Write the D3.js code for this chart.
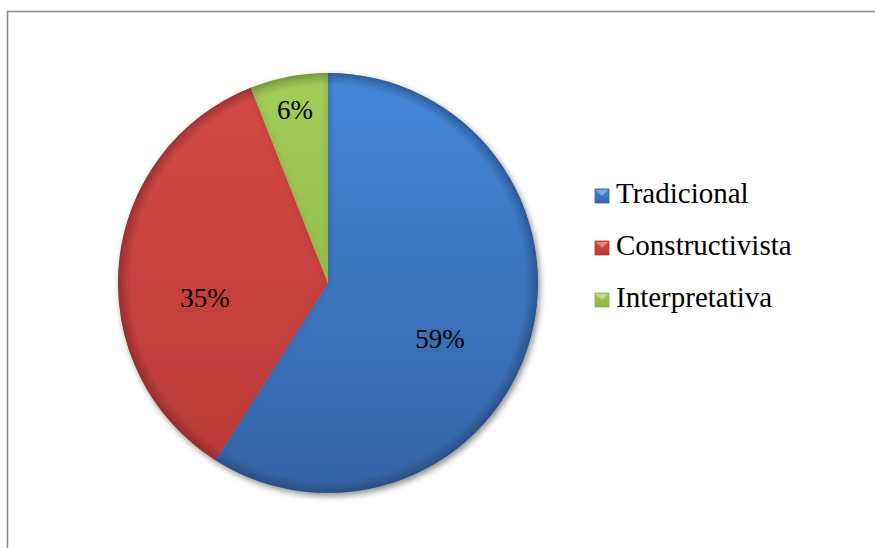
<!DOCTYPE html>
<html>
<head>
<meta charset="utf-8">
<script src="https://cdn.jsdelivr.net/npm/d3@7/dist/d3.min.js"></script>
<style>
  html, body { margin: 0; padding: 0; background: #ffffff; }
  svg { display: block; }
</style>
</head>
<body>
<svg id="chart" width="875" height="548"></svg>
<script>
// Data
const categories = ["Tradicional", "Constructivista", "Interpretativa"];
const values = [59, 35, 6];
const valueLabels = ["59%", "35%", "6%"];

// Palette (light top tone, dark bottom tone)
const lightColors = ["#4386d8", "#d44a48", "#a2cd58"];
const darkColors  = ["#3464a6", "#b83936", "#8bb146"];

// Layout
const W = 875, H = 548;
const cx = 328, cy = 283, R = 210;
const FONT = "'Liberation Serif', 'Times New Roman', 'DejaVu Serif', serif";
// label placement: fraction of radius and angular shift (radians) from slice mid-angle
const labelPlace = [[0.594, 0.175], [0.59, -0.216], [0.84, 0.0]];

const svg = d3.select("#chart");
const defs = svg.append("defs");

// Chart frame (top and left edges visible)
svg.append("rect")
  .attr("x", 7.5).attr("y", 11.5)
  .attr("width", W + 20).attr("height", H + 20)
  .attr("fill", "none")
  .attr("stroke", "#878787")
  .attr("stroke-width", 1.5);

// Drop shadow
const shadow = defs.append("filter").attr("id", "shadow")
  .attr("x", "-10%").attr("y", "-10%").attr("width", "130%").attr("height", "130%");
shadow.append("feGaussianBlur").attr("in", "SourceAlpha").attr("stdDeviation", 3).attr("result", "b");
shadow.append("feOffset").attr("in", "b").attr("dx", 2).attr("dy", 3).attr("result", "o");
shadow.append("feComponentTransfer").attr("in", "o").attr("result", "s")
  .append("feFuncA").attr("type", "linear").attr("slope", 0.45);
const merge = shadow.append("feMerge");
merge.append("feMergeNode").attr("in", "s");
merge.append("feMergeNode").attr("in", "SourceGraphic");

const soft = defs.append("filter").attr("id", "soft");
soft.append("feGaussianBlur").attr("stdDeviation", 2.5);

// Gradients: slices (local pie coords) and legend swatches (bounding box)
categories.forEach((c, i) => {
  const g = defs.append("linearGradient").attr("id", "grad" + i)
    .attr("gradientUnits", "userSpaceOnUse")
    .attr("x1", 0).attr("y1", -R).attr("x2", 0).attr("y2", R);
  g.append("stop").attr("offset", "0%").attr("stop-color", lightColors[i]);
  g.append("stop").attr("offset", "100%").attr("stop-color", darkColors[i]);

  const lg = defs.append("linearGradient").attr("id", "lgrad" + i)
    .attr("x1", 0).attr("y1", 0).attr("x2", 0).attr("y2", 1);
  lg.append("stop").attr("offset", "0%").attr("stop-color", lightColors[i]);
  lg.append("stop").attr("offset", "100%").attr("stop-color", darkColors[i]);
});

// Rim darkening
const rim = defs.append("radialGradient").attr("id", "rim")
  .attr("gradientUnits", "userSpaceOnUse")
  .attr("cx", 0).attr("cy", 0).attr("r", R);
rim.append("stop").attr("offset", "0%").attr("stop-color", "#000").attr("stop-opacity", 0);
rim.append("stop").attr("offset", "94%").attr("stop-color", "#000").attr("stop-opacity", 0);
rim.append("stop").attr("offset", "100%").attr("stop-color", "#000").attr("stop-opacity", 0.22);

const pie = d3.pie().sort(null).value(d => d)
  .startAngle(0).endAngle(2 * Math.PI);
const arcs = pie(values);
const arc = d3.arc().innerRadius(0).outerRadius(R);

const plot = svg.append("g").attr("transform", `translate(${cx},${cy})`);

// Slices
plot.append("g").attr("filter", "url(#shadow)")
  .selectAll("path").data(arcs).enter().append("path")
  .attr("d", arc)
  .attr("fill", (d, i) => `url(#grad${i})`);

// Inner bevel along slice edges
arcs.forEach((d, i) => {
  defs.append("clipPath").attr("id", "clip" + i)
    .append("path").attr("d", arc(d));
});
plot.append("g").selectAll("g").data(arcs).enter().append("g")
  .attr("clip-path", (d, i) => `url(#clip${i})`)
  .append("path")
  .attr("d", arc)
  .attr("fill", "none")
  .attr("stroke", (d, i) => darkColors[i])
  .attr("stroke-width", 6)
  .attr("stroke-opacity", 0.55)
  .attr("filter", "url(#soft)");

// Rim overlay
plot.append("circle").attr("r", R).attr("fill", "url(#rim)");

// Value labels
plot.append("g").selectAll("text").data(arcs).enter().append("text")
  .attr("text-anchor", "middle")
  .attr("dy", "0.35em")
  .attr("font-family", FONT)
  .attr("font-size", 27)
  .attr("fill", "#000")
  .attr("x", (d, i) => {
    const a = (d.startAngle + d.endAngle) / 2 + labelPlace[i][1];
    return Math.sin(a) * R * labelPlace[i][0];
  })
  .attr("y", (d, i) => {
    const a = (d.startAngle + d.endAngle) / 2 + labelPlace[i][1];
    return -Math.cos(a) * R * labelPlace[i][0];
  })
  .text((d, i) => valueLabels[i]);

// Legend
const legendX = 595, legendY = 203, rowH = 52, sw = 14;
const rows = svg.append("g").selectAll("g").data(categories).enter().append("g")
  .attr("transform", (d, i) => `translate(${legendX},${legendY + i * rowH})`);
rows.append("rect")
  .attr("x", 0).attr("y", -sw)
  .attr("width", sw).attr("height", sw)
  .attr("fill", (d, i) => `url(#lgrad${i})`)
  .attr("stroke", (d, i) => darkColors[i])
  .attr("stroke-width", 0.8);
rows.append("path")
  .attr("d", `M1,${-sw + 1}L${sw / 2},${-sw / 2}L${sw - 1},${-sw + 1}Z`)
  .attr("fill", "#ffffff").attr("fill-opacity", 0.35);
rows.append("text")
  .attr("x", 21).attr("y", 0)
  .attr("font-family", FONT)
  .attr("font-size", 29)
  .attr("fill", "#000")
  .text(d => d);
</script>
</body>
</html>
